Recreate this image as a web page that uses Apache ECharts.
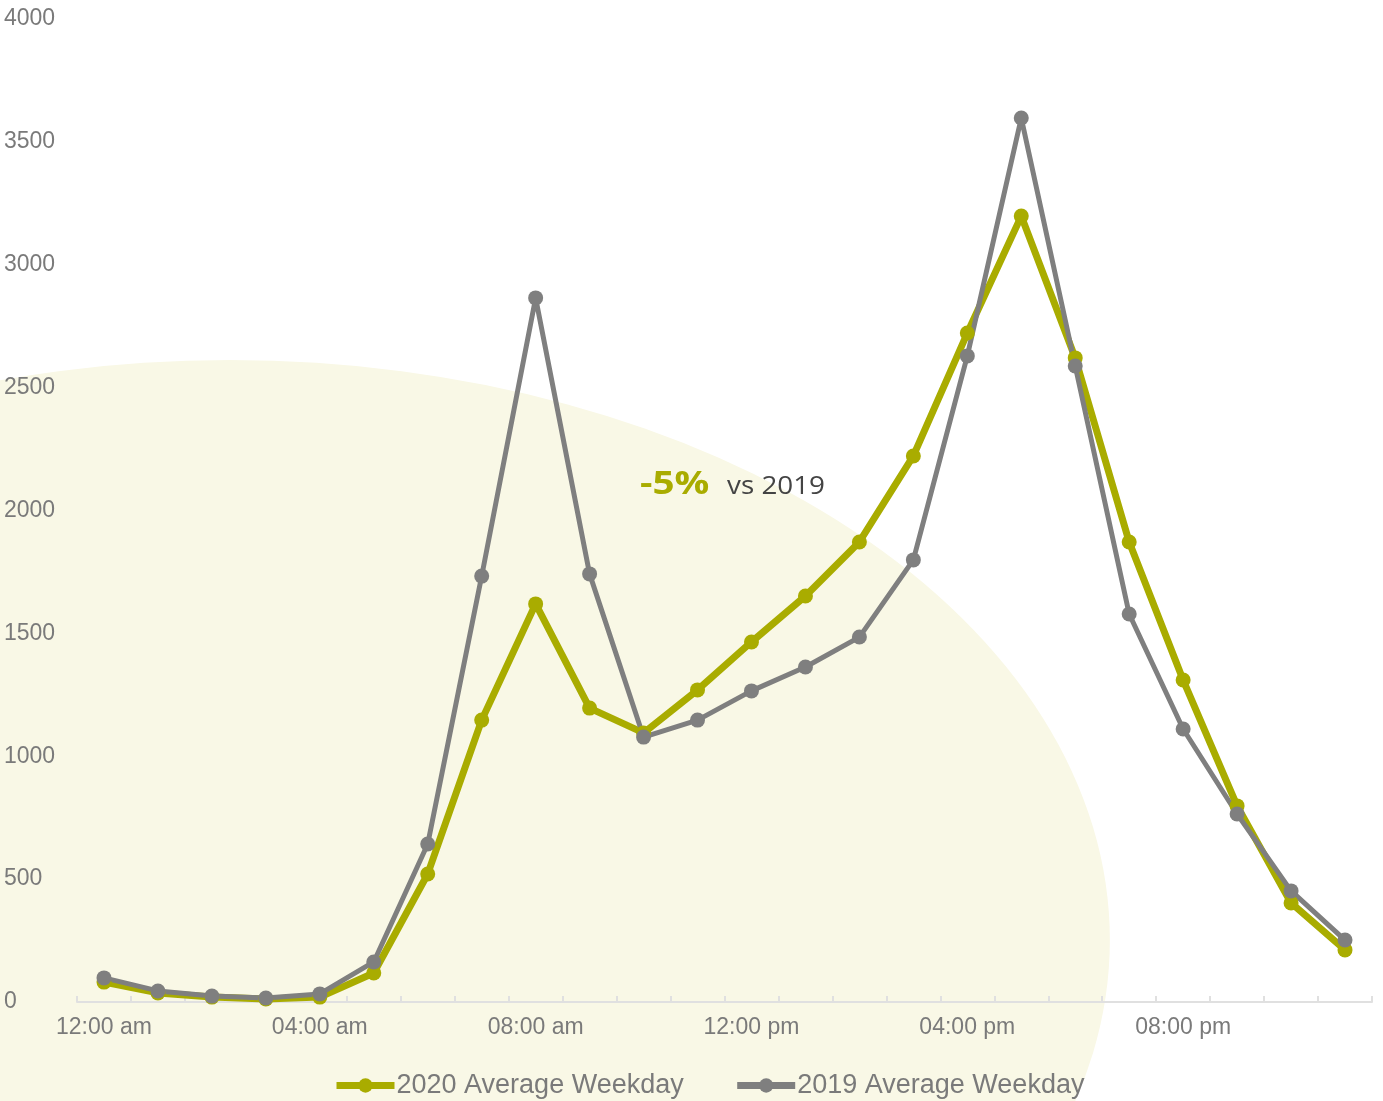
<!DOCTYPE html>
<html>
<head>
<meta charset="utf-8">
<script src="https://cdn.jsdelivr.net/npm/echarts@6/dist/echarts.min.js"></script>
<style>
  html, body { margin: 0; padding: 0; background: #fff; }
  #chart { width: 1383px; height: 1101px; }
</style>
</head>
<body>
<div id="chart"></div>
<script>
// hours of the day, one point each
const hours = ['12:00 am', '01:00 am', '02:00 am', '03:00 am', '04:00 am', '05:00 am',
  '06:00 am', '07:00 am', '08:00 am', '09:00 am', '10:00 am', '11:00 am',
  '12:00 pm', '01:00 pm', '02:00 pm', '03:00 pm', '04:00 pm', '05:00 pm',
  '06:00 pm', '07:00 pm', '08:00 pm', '09:00 pm', '10:00 pm', '11:00 pm'];

const weekday2020 = [81, 37, 20, 12, 20, 118, 521, 1147, 1620, 1196, 1095, 1270,
  1465, 1652, 1872, 2222, 2722, 3198, 2621, 1872, 1310, 798, 403, 212];

const weekday2019 = [98, 45, 24, 16, 33, 163, 643, 1733, 2865, 1742, 1078, 1147,
  1266, 1363, 1485, 1799, 2629, 3597, 2588, 1579, 1111, 765, 452, 252];

const seriesNames = ['2020 Average Weekday', '2019 Average Weekday'];

const olive = '#a9ac00';
const grey = '#7f7f7f';
const labelColor = '#7a7a7a';

const chart = echarts.init(document.getElementById('chart'));

chart.setOption({
  backgroundColor: '#fff',
  textStyle: { fontFamily: 'Liberation Sans, Arial, sans-serif' },
  grid: { left: 77, right: 11, top: 19, bottom: 99 },
  graphic: [
    {
      // pale background blob
      type: 'circle',
      z: -10,
      x: 230, y: 940,
      scaleX: 1.517,
      shape: { cx: 0, cy: 0, r: 580 },
      style: { fill: '#f9f8e6' },
      silent: true
    },
    {
      type: 'text',
      x: 640, y: 485,
      scaleX: 1.17,
      style: {
        text: '-5%',
        fill: olive,
        font: 'bold 33px "Open Sans", sans-serif',
        textVerticalAlign: 'middle'
      }
    },
    {
      type: 'text',
      x: 727, y: 487,
      scaleX: 1.07,
      style: {
        text: 'vs 2019',
        fill: '#444',
        font: '26px "Open Sans", sans-serif',
        textVerticalAlign: 'middle'
      }
    }
  ],
  legend: {
    bottom: -3,
    left: 328,
    itemWidth: 58,
    itemHeight: 18,
    itemGap: 50,
    lineStyle: { width: 7 },
    textStyle: { fontSize: 27, color: labelColor, padding: [0, 0, 0, -3] },
    data: seriesNames
  },
  xAxis: {
    type: 'category',
    boundaryGap: true,
    data: hours,
    axisLine: { lineStyle: { color: '#e0e0e0', width: 2 } },
    axisTick: { show: true, inside: true, length: 6, interval: 0, lineStyle: { color: '#e0e0e0', width: 2 } },
    axisLabel: { interval: 3, fontSize: 23, color: labelColor, margin: 14 },
    splitLine: { show: false }
  },
  yAxis: {
    type: 'value',
    min: 0,
    max: 4000,
    interval: 500,
    axisLine: { show: false },
    axisTick: { show: false },
    splitLine: { show: false },
    axisLabel: {
      fontSize: 23, color: labelColor, align: 'left', margin: 73,
      formatter: function (v) { return String(v); }
    }
  },
  series: [
    {
      name: seriesNames[0],
      type: 'line',
      data: weekday2020,
      symbol: 'circle',
      symbolSize: 15,
      color: olive,
      lineStyle: { width: 7, color: olive },
      itemStyle: { color: olive }
    },
    {
      name: seriesNames[1],
      type: 'line',
      data: weekday2019,
      symbol: 'circle',
      symbolSize: 15,
      color: grey,
      lineStyle: { width: 5, color: grey },
      itemStyle: { color: grey }
    }
  ]
});

window.addEventListener('resize', function () {
  chart.resize();
});
</script>
</body>
</html>
